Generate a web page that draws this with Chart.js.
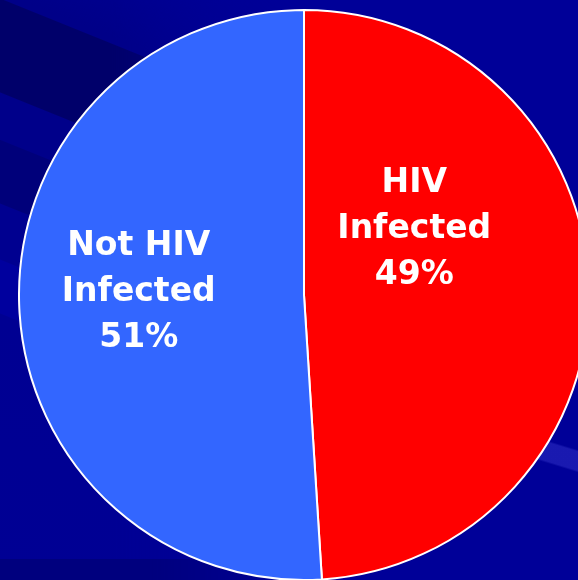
<!DOCTYPE html>
<html>
<head>
<meta charset="utf-8">
<script src="https://cdn.jsdelivr.net/npm/chart.js@4"></script>
<style>
  html, body { margin: 0; padding: 0; width: 578px; height: 580px; overflow: hidden; }
  body { position: relative; background: #000098; }
  .bg { position: absolute; left: 0; top: 0; }
  #streaksLeft {
    width: 320px; height: 580px;
    background: linear-gradient(202deg,
      rgba(0,0,0,0) 0px, #000088 112px, #000088 118px,
      #00006a 119px, #00006a 205px,
      #00008a 206px, #00008a 249px,
      #00007a 250px, #00007a 308px,
      #000090 309px, #000090 360px,
      #00009e 361px, #00009e 410px,
      #000092 411px, #000094 100%);
    -webkit-mask-image: linear-gradient(to right, black 0%, black 35%, transparent 100%);
    mask-image: linear-gradient(to right, black 0%, black 35%, transparent 100%);
  }
  #bottomStrip {
    top: 559px; width: 300px; height: 21px;
    background: #00007e;
    -webkit-mask-image: linear-gradient(to right, black 0%, black 50%, transparent 100%);
    mask-image: linear-gradient(to right, black 0%, black 50%, transparent 100%);
  }
  #streakRight {
    width: 578px; height: 580px;
    background: linear-gradient(197deg,
      rgba(0,0,0,0) 0px, rgba(0,0,0,0) 430px,
      rgba(60,60,210,0.42) 432px, rgba(60,60,210,0.42) 450px,
      rgba(0,0,0,0) 452px, rgba(0,0,0,0) 100%);
    -webkit-mask-image: linear-gradient(to right, transparent 55%, black 90%);
    mask-image: linear-gradient(to right, transparent 55%, black 90%);
  }
  #c { position: absolute; left: 18px; top: 9px; }
</style>
</head>
<body>
<div class="bg" id="streaksLeft"></div>
<div class="bg" id="bottomStrip"></div>
<div class="bg" id="streakRight"></div>
<canvas id="c" width="572" height="572"></canvas>
<script>
const categories = ['HIV Infected', 'Not HIV Infected'];
const values = [49, 51];
const labelLines = [['HIV', 'Infected', '49%'], ['Not HIV', 'Infected', '51%']];
const sliceColors = ['#FF0000', '#3366FF'];

const labelPlugin = {
  id: 'sliceLabels',
  afterDatasetsDraw(chart, args, opts) {
    const ctx = chart.ctx;
    const meta = chart.getDatasetMeta(0);
    ctx.save();
    ctx.fillStyle = '#FFFFFF';
    ctx.font = 'bold 33px "DejaVu Sans", Verdana, sans-serif';
    ctx.textAlign = 'center';
    ctx.textBaseline = 'middle';
    meta.data.forEach((arc, i) => {
      const p = arc.getProps(['x', 'y', 'outerRadius'], true);
      const a = opts.anchors[i];
      const cx = p.x + Math.cos(a.angle * Math.PI / 180) * a.dist * p.outerRadius;
      const cy = p.y + Math.sin(a.angle * Math.PI / 180) * a.dist * p.outerRadius;
      const lines = labelLines[i];
      const lh = opts.lineHeight;
      lines.forEach((t, j) => {
        ctx.fillText(t, cx, cy + (j - (lines.length - 1) / 2) * lh);
      });
    });
    ctx.restore();
  }
};

new Chart(document.getElementById('c'), {
  type: 'pie',
  data: {
    labels: categories,
    datasets: [{
      data: values,
      backgroundColor: sliceColors,
      borderColor: '#FFFFFF',
      borderWidth: 2
    }]
  },
  options: {
    responsive: false,
    animation: false,
    layout: { padding: 0 },
    plugins: {
      legend: { display: false },
      tooltip: { enabled: false },
      sliceLabels: {
        lineHeight: 46,
        anchors: [{ angle: -30.7, dist: 0.45 }, { angle: 181, dist: 0.58 }]
      }
    }
  },
  plugins: [labelPlugin]
});
</script>
</body>
</html>
